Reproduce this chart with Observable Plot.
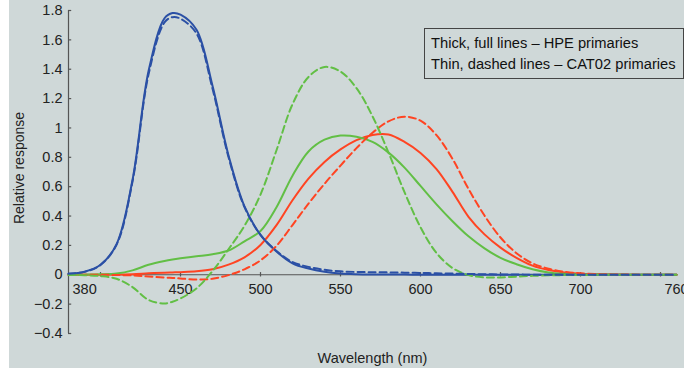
<!DOCTYPE html>
<html>
<head>
<meta charset="utf-8">
<script src="https://cdn.jsdelivr.net/npm/d3@7"></script>
<script src="https://cdn.jsdelivr.net/npm/@observablehq/plot@0.6"></script>
<style>
  body { margin: 0; background: #fff; }
  #wrap {
    position: relative; width: 684px; height: 373px; overflow: hidden;
    font-family: "Liberation Sans", Arial, sans-serif;
    background:
      linear-gradient(#fff, #fff) left top / 9px 100% no-repeat,
      linear-gradient(#fff, #fff) left bottom / 100% 5px no-repeat,
      #cfd8d8;
  }
  #wrap svg { display: block; }
  #note {
    position: absolute; left: 424px; top: 28px; width: 260px; height: 51px;
    box-sizing: border-box; border: 1px solid #444; padding: 4px 0 0 6px;
    font-size: 14.7px; line-height: 20.5px; color: #111; white-space: nowrap;
  }
</style>
</head>
<body>
<div id="wrap">
  <div id="note">Thick, full lines – HPE primaries<br>Thin, dashed lines – CAT02 primaries</div>
</div>
<script>
// Wavelength grid (nm)
const wavelengths = [380,390,400,410,420,430,440,445,450,460,470,480,490,500,510,520,530,540,550,560,570,580,590,600,610,620,630,640,650,660,670,680,690,700,710,720,730,740,750,760];

// HPE primaries (thick, full lines)
const hpeL = [0.0001,0.0002,0.0005,0.0015,0.0043,0.0096,0.0141,0.0159,0.0178,0.0233,0.0375,0.0691,0.1192,0.2030,0.3378,0.5077,0.6551,0.7689,0.8537,0.9172,0.9527,0.9555,0.905,0.83,0.72,0.565,0.395,0.275,0.185,0.115,0.062,0.032,0.015,0.0073,0.0037,0.0019,0.0009,0.0004,0.0002,0.0001];
const hpeM = [0,0.001,0.003,0.008,0.03,0.068,0.094,0.104,0.112,0.126,0.14,0.165,0.228,0.298,0.46,0.675,0.84,0.92,0.948,0.94,0.905,0.832,0.73,0.605,0.48,0.365,0.262,0.18,0.115,0.072,0.038,0.016,0.007,0.003,0.0015,0.0007,0.0003,0.0001,0,0];
const hpeS = [0.00645,0.02005,0.06785,0.2074,0.6456,1.3856,1.74706,1.7826,1.77211,1.6692,1.28764,0.81295,0.46518,0.272,0.1582,0.07825,0.04216,0.0203,0.00875,0.0039,0.0021,0.00165,0.0011,0.0008,0.00034,0.00019,0.00005,0.00002,0,0,0,0,0,0,0,0,0,0,0,0];

// CAT02 primaries (thin, dashed lines)
const cat02R = [-0.00003,-0.0001,-0.0004,-0.0013,-0.0047,-0.0120,-0.0186,-0.0216,-0.0251,-0.0322,-0.0269,-0.0022,0.0373,0.0982,0.1972,0.3387,0.4848,0.6194,0.7436,0.8625,0.9671,1.0450,1.0771,1.0493,0.9507,0.7898,0.5846,0.4034,0.2537,0.1470,0.0778,0.0416,0.0202,0.0101,0.0051,0.0026,0.0013,0.0006,0.0003,0.0002];
const cat02G = [-0.0009,-0.0027,-0.0090,-0.0273,-0.0838,-0.1716,-0.1954,-0.1835,-0.1612,-0.0926,0.0248,0.1737,0.3334,0.5465,0.8483,1.1612,1.3471,1.4152,1.3840,1.2708,1.0798,0.8321,0.5629,0.3238,0.1484,0.0456,-0.0022,-0.0181,-0.0178,-0.0125,-0.0072,-0.0041,-0.0020,-0.0010,-0.0005,-0.0003,-0.0001,-0.0001,0,0];
const cat02B = [0.0064,0.0197,0.0668,0.2041,0.6353,1.3636,1.7194,1.7545,1.7442,1.6432,1.2681,0.8016,0.4604,0.2719,0.1624,0.0868,0.0537,0.0338,0.0234,0.0192,0.0173,0.0162,0.0145,0.0126,0.0102,0.0079,0.0056,0.0037,0.0023,0.0013,0.0007,0.0004,0.0002,0.0001,0.0001,0,0,0,0,0];

// Axis ticks and labels
const yTicks = [-0.4,-0.2,0,0.2,0.4,0.6,0.8,1,1.2,1.4,1.6,1.8];
const xTickMarks = [400,450,500,550,600,650,700,750];
const xLabelsMid = [450,500,550,600,650,700,760];
const xLabelsStart = [380];

const cones = ["L","M","S"];
const coneColors = ["#ff4422","#62bf45","#2b50a5"];

function rows(series) {
  const out = [];
  series.forEach(([cone, vals]) => vals.forEach((v, i) => out.push({wl: wavelengths[i], v, cone})));
  return out;
}
const hpe = rows([["L", hpeL], ["M", hpeM], ["S", hpeS]]);
const cat = rows([["L", cat02R], ["M", cat02G], ["S", cat02B]]);

const fmt = d3.format("~g");
const axisColor = "#555";

const chart = Plot.plot({
  width: 684, height: 373,
  marginLeft: 68, marginRight: 8, marginTop: 10, marginBottom: 40,
  style: {background: "transparent", fontFamily: "'Liberation Sans', Arial, sans-serif", fontSize: "14.5px", color: "#222"},
  x: {domain: [380, 760], axis: null},
  y: {domain: [-0.4, 1.8], axis: null},
  color: {domain: cones, range: coneColors},
  marks: [
    // y axis
    Plot.ruleX([380], {stroke: axisColor, strokeWidth: 1.2}),
    Plot.ruleY(yTicks, {x1: 380, x2: 382, stroke: axisColor, strokeWidth: 1.2}),
    Plot.text(yTicks, {x: 380, y: d => d, text: d => fmt(d), textAnchor: "end", dx: -6, fill: "#222"}),
    // x axis at zero
    Plot.ruleY([0], {stroke: axisColor, strokeWidth: 1.2}),
    Plot.ruleX(xTickMarks, {y1: -0.015, y2: 0.015, stroke: axisColor, strokeWidth: 1.2}),
    Plot.text(xLabelsMid, {x: d => d, y: 0, text: d => String(d), lineAnchor: "top", dy: 8.5, fill: "#222"}),
    Plot.text(xLabelsStart, {x: d => d, y: 0, text: d => String(d), lineAnchor: "top", textAnchor: "start", dy: 8.5, dx: 4, fill: "#222"}),
    // titles
    Plot.text(["Relative response"], {frameAnchor: "left", textAnchor: "middle", rotate: -90, dx: -49, dy: -4, fontSize: 14, fill: "#222"}),
    Plot.text(["Wavelength (nm)"], {frameAnchor: "bottom", dy: 29, fill: "#222"}),
    // curves
    Plot.line(hpe, {x: "wl", y: "v", z: "cone", stroke: "cone", strokeWidth: 2, curve: "catmull-rom"}),
    Plot.line(cat, {x: "wl", y: "v", z: "cone", stroke: "cone", strokeWidth: 2, strokeDasharray: "7,4", curve: "catmull-rom"})
  ]
});
document.getElementById("wrap").prepend(chart);
</script>
</body>
</html>
